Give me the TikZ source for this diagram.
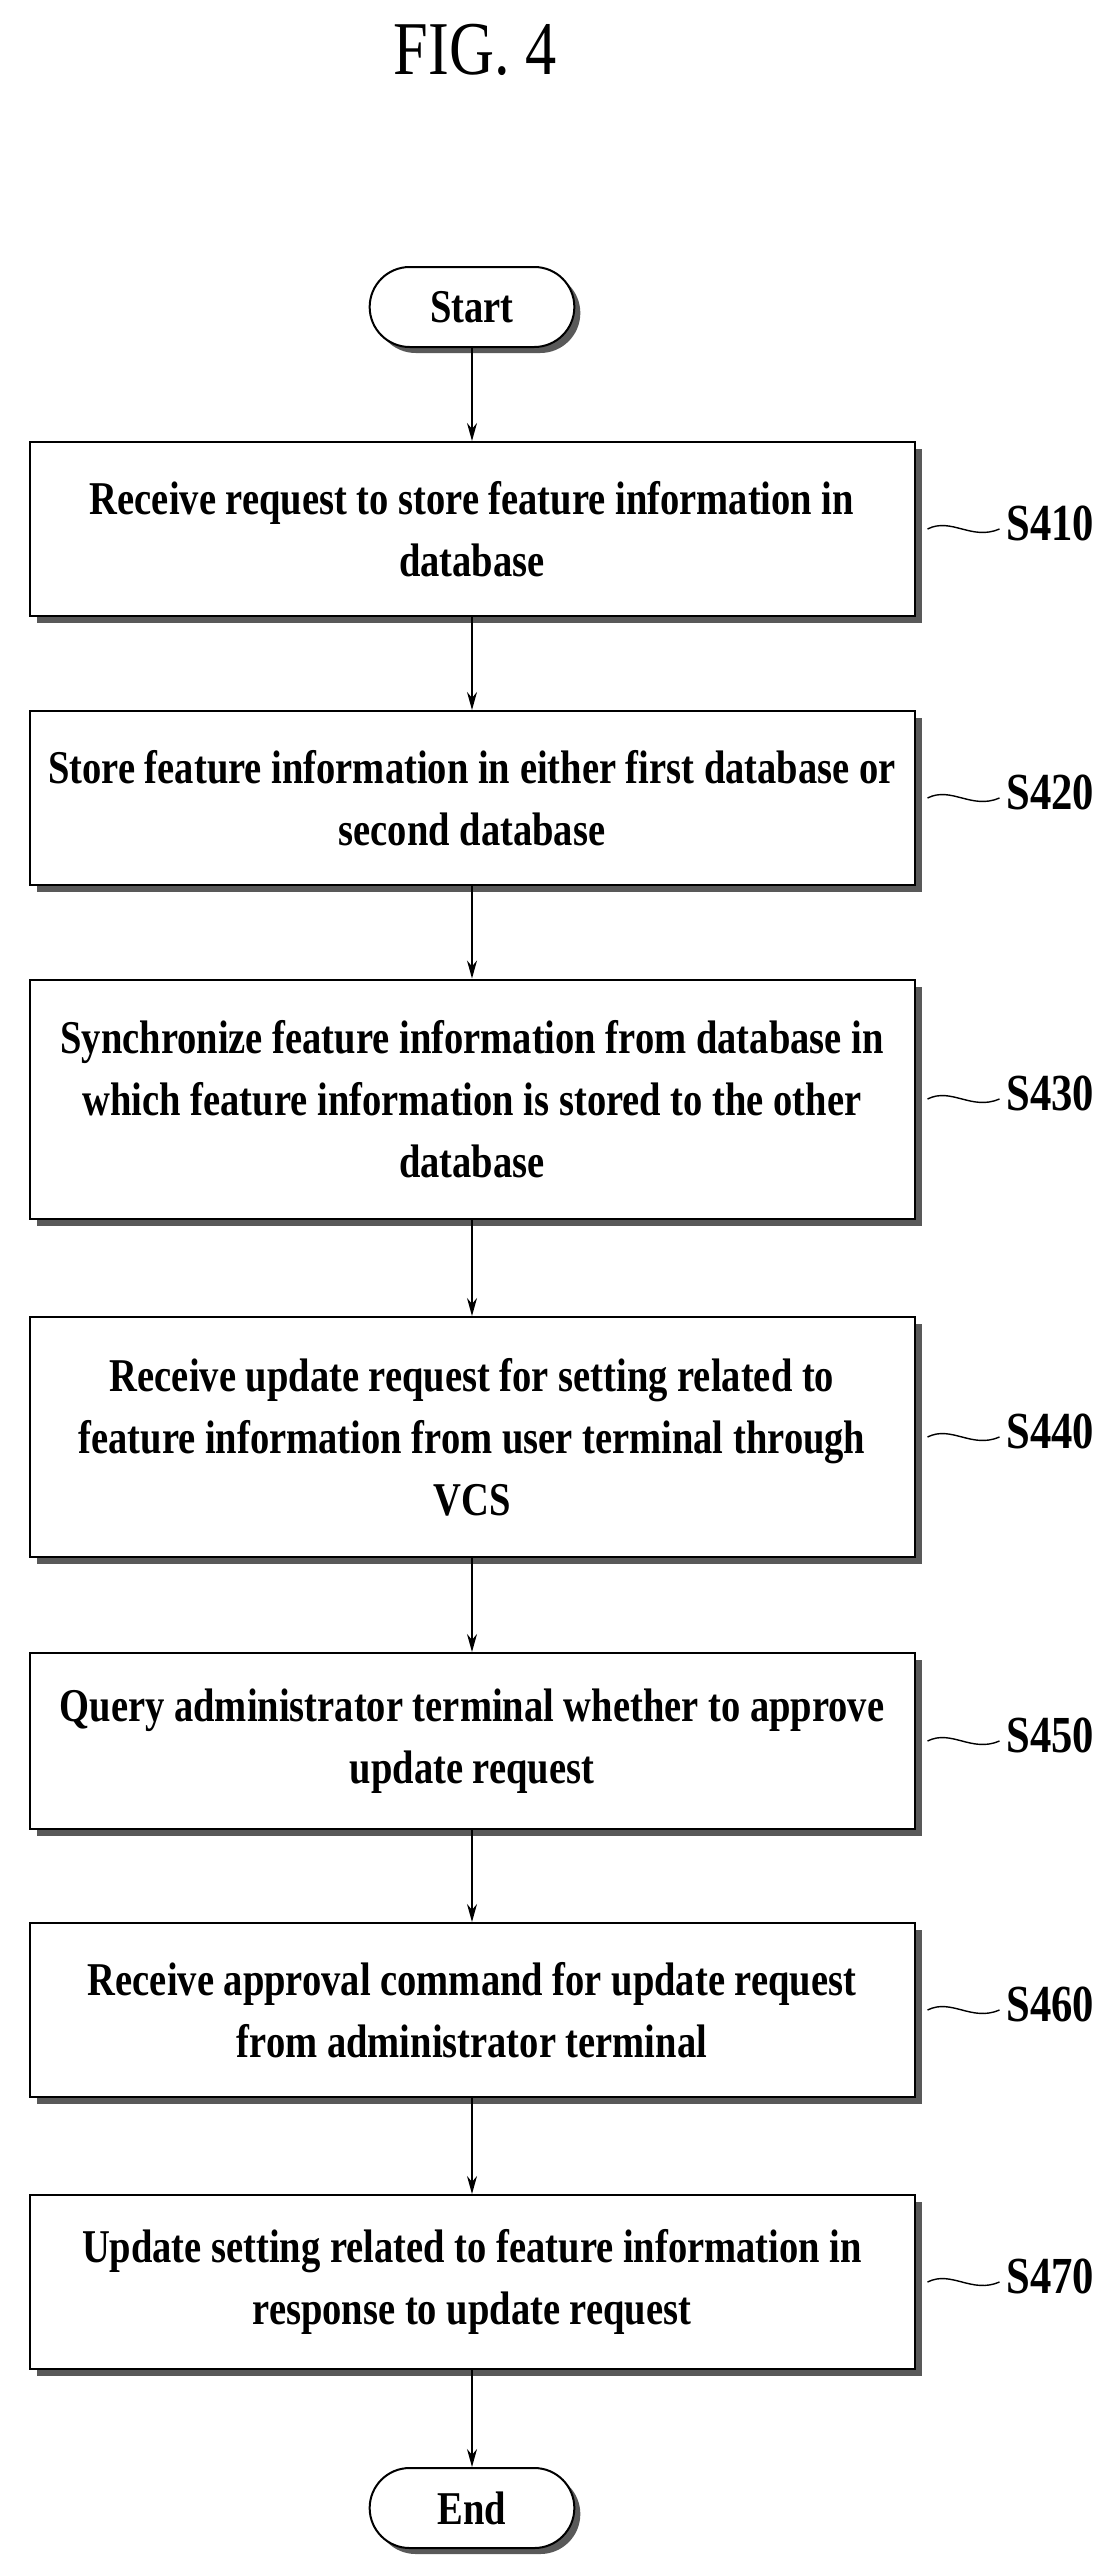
\documentclass[tikz,border=0pt]{standalone}
\usepackage{fontspec}
\setmainfont{Liberation Serif}[FakeStretch=0.82]
\usetikzlibrary{shapes.misc,arrows.meta}
\tikzset{
  stepbox/.style={draw,line width=1pt,minimum width=442.5pt,align=center,font=\fontsize{23.5}{31}\selectfont\bfseries,
    preaction={draw=none,fill=black!65,transform canvas={xshift=3.5pt,yshift=-3.5pt}},fill=white,inner sep=0pt},
  term/.style={draw,line width=1pt,rounded rectangle,minimum width=109pt,minimum height=40pt,font=\fontsize{23.5}{25}\selectfont\bfseries,
    preaction={draw=none,fill=black!65,transform canvas={xshift=3pt,yshift=-3pt}},fill=white},
  conn/.style={line width=0.8pt,-{Stealth[length=9pt,width=5pt]}},
  lab/.style={font=\fontsize{26}{28}\selectfont\bfseries,anchor=west},
  tild/.style={line width=0.7pt}
}
\begin{document}
\begin{tikzpicture}[x=0.5pt,y=-0.5pt]
\useasboundingbox (0,0) rectangle (1119,2575);
\node[font=\fontsize{38}{40}\selectfont] (title) at (475,50) {FIG. 4};
\node[term] (start) at (472,307) {Start};
\node[stepbox,minimum height=87pt] (s1) at (472,529) {Receive request to store feature information in\\database};
\node[stepbox,minimum height=87pt] (s2) at (472,798) {Store feature information in either first database or\\second database};
\node[stepbox,minimum height=119.5pt] (s3) at (472,1099) {Synchronize feature information from database in\\which feature information is stored to the other\\database};
\node[stepbox,minimum height=120pt] (s4) at (472,1437) {Receive update request for setting related to\\feature information from user terminal through\\VCS};
\node[stepbox,minimum height=88pt] (s5) at (472,1741) {Query administrator terminal whether to approve\\update request};
\node[stepbox,minimum height=87pt] (s6) at (472,2010) {Receive approval command for update request\\from administrator terminal};
\node[stepbox,minimum height=87pt] (s7) at (472,2282) {Update setting related to feature information in\\response to update request};
\node[term] (end) at (472,2508) {End};
\foreach \a/\b in {start/s1,s1/s2,s2/s3,s3/s4,s4/s5,s5/s6,s6/s7,s7/end}
  \draw[conn] (\a) -- (\b);
\foreach \n/\t in {s1/S410,s2/S420,s3/S430,s4/S440,s5/S450,s6/S460,s7/S470}{
  \node[lab] (l\n) at ([xshift=42pt,yshift=3pt]\n.east) {\t};
  \draw[tild] ([xshift=6pt]\n.east) .. controls ([xshift=18pt,yshift=6pt]\n.east) and ([xshift=28pt,yshift=-6pt]\n.east) .. (l\n.west |- \n.east);
}
\end{tikzpicture}
\end{document}
